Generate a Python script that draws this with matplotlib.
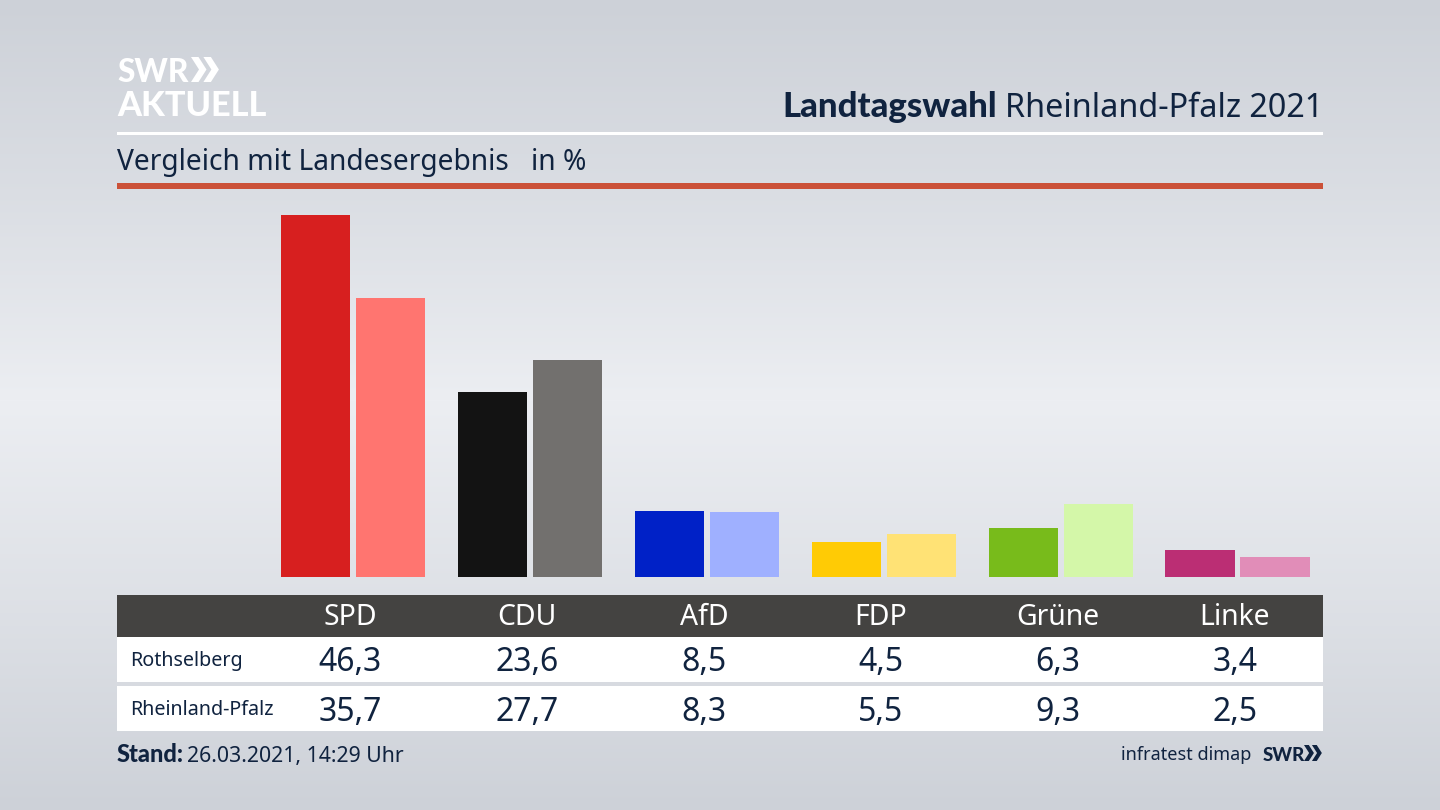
#!/usr/bin/env python3
"""
Landtagswahl Rheinland-Pfalz 2021: Rothselberg compared with the state result.
Outputs to out.png.
"""

import matplotlib
matplotlib.use('Agg')
import matplotlib.pyplot as plt
import numpy as np
from matplotlib.patches import Polygon, Rectangle

parties = ['SPD', 'CDU', 'AfD', 'FDP', 'Grüne', 'Linke']
rothselberg = [46.3, 23.6, 8.5, 4.5, 6.3, 3.4]
rheinland_pfalz = [35.7, 27.7, 8.3, 5.5, 9.3, 2.5]
row_names = ['Rothselberg', 'Rheinland-Pfalz']
dark_colors = ['#d71f1f', '#131313', '#0021c7', '#ffcb05', '#78bb1b', '#bb2e74']
light_colors = ['#ff7570', '#72706e', '#9fb0ff', '#ffe275', '#d4f7a9', '#e18db8']

NAVY = '#10233f'
plt.rcParams['font.family'] = ['Noto Sans', 'DejaVu Sans']
BOLD = 'Lato'

fig = plt.figure(figsize=(14.4, 8.1), dpi=100)

# Background gradient, lightest a bit below the middle
bg = fig.add_axes([0, 0, 1, 1], zorder=0)
stops_y = [0, 200, 400, 600, 810]
stops_v = [0.0, 0.45, 1.0, 0.55, 0.0]
grad = np.interp(np.arange(810), stops_y, stops_v)
top = np.array([205, 209, 216]) / 255
mid = np.array([236, 238, 242]) / 255
img = top[None, :] + grad[:, None] * (mid - top)[None, :]
bg.imshow(img[:, None, :], aspect='auto', extent=(0, 1440, 810, 0))
bg.set_xlim(0, 1440)
bg.set_ylim(810, 0)
bg.axis('off')

# Rules and table bands
bg.add_patch(Rectangle((117, 132), 1206, 3, color='white', lw=0))
bg.add_patch(Rectangle((117, 183), 1206, 6, color='#cb5138', lw=0))
bg.add_patch(Rectangle((117, 595), 1206, 42, color='#444341', lw=0))
bg.add_patch(Rectangle((117, 637), 1206, 45, color='white', lw=0))
bg.add_patch(Rectangle((117, 686), 1206, 45, color='white', lw=0))


def chevrons(x, y, h, color):
    # two arrow heads of the SWR logo
    w = h * 0.62
    t = h * 0.3
    for dx in (0, w * 0.8):
        pts = [(x + dx, y), (x + dx + t, y), (x + dx + w, y + h / 2),
               (x + dx + t, y + h), (x + dx, y + h), (x + dx + w - t, y + h / 2)]
        bg.add_patch(Polygon(pts, closed=True, color=color, lw=0))


# Logo
bg.text(117, 82, 'SWR', color='white', fontsize=22.8, family=BOLD, fontweight='black', va='baseline')
chevrons(191, 57, 25, 'white')
bg.text(117, 116, 'AKTUELL', color='white', fontsize=24.7, family=BOLD, fontweight='black', va='baseline')

# Header
bg.text(997, 117, 'Landtagswahl', color=NAVY, fontsize=25, family=BOLD, fontweight='black', ha='right', va='baseline')
bg.text(1323, 117, 'Rheinland-Pfalz 2021', color=NAVY, fontsize=23.3, ha='right', va='baseline')
bg.text(117, 170, 'Vergleich mit Landesergebnis', color=NAVY, fontsize=20.3, va='baseline')
bg.text(531, 170, 'in %', color=NAVY, fontsize=20.3, va='baseline')

# Bars
ax = fig.add_axes([117 / 1440, 1 - 577 / 810, 1206 / 1440, 388 / 810], zorder=1)
ax.patch.set_alpha(0)
x = np.arange(len(parties))
ax.bar(x - 0.212, rothselberg, width=0.391, color=dark_colors)
ax.bar(x + 0.212, rheinland_pfalz, width=0.391, color=light_colors)
ax.set_xlim(-1.334, 5.483)
ax.set_ylim(0, 388 / 7.82)
ax.axis('off')

# Table text
label_x = [350 + 177 * i for i in range(len(parties))]
for lx, name, a, b in zip(label_x, parties, rothselberg, rheinland_pfalz):
    bg.text(lx, 625, name, color='white', fontsize=20.4, ha='center', va='baseline')
    bg.text(lx, 671, f'{a:.1f}'.replace('.', ','), color=NAVY, fontsize=23, ha='center', va='baseline')
    bg.text(lx, 721, f'{b:.1f}'.replace('.', ','), color=NAVY, fontsize=23, ha='center', va='baseline')
bg.text(130, 666, row_names[0], color=NAVY, fontsize=14.2, va='baseline')
bg.text(130, 715, row_names[1], color=NAVY, fontsize=14.2, va='baseline')

# Footer
bg.text(117, 762, 'Stand:', color=NAVY, fontsize=17, family=BOLD, fontweight='black', va='baseline')
bg.text(187, 762, '26.03.2021, 14:29 Uhr', color=NAVY, fontsize=15.3, va='baseline')
bg.text(1251, 760, 'infratest dimap', color=NAVY, fontsize=13, ha='right', va='baseline')
bg.text(1263, 761, 'SWR', color=NAVY, fontsize=13.5, family=BOLD, fontweight='black', va='baseline')
chevrons(1304, 745, 16, NAVY)

plt.savefig('out.png', dpi=100, facecolor='white')
plt.close()
